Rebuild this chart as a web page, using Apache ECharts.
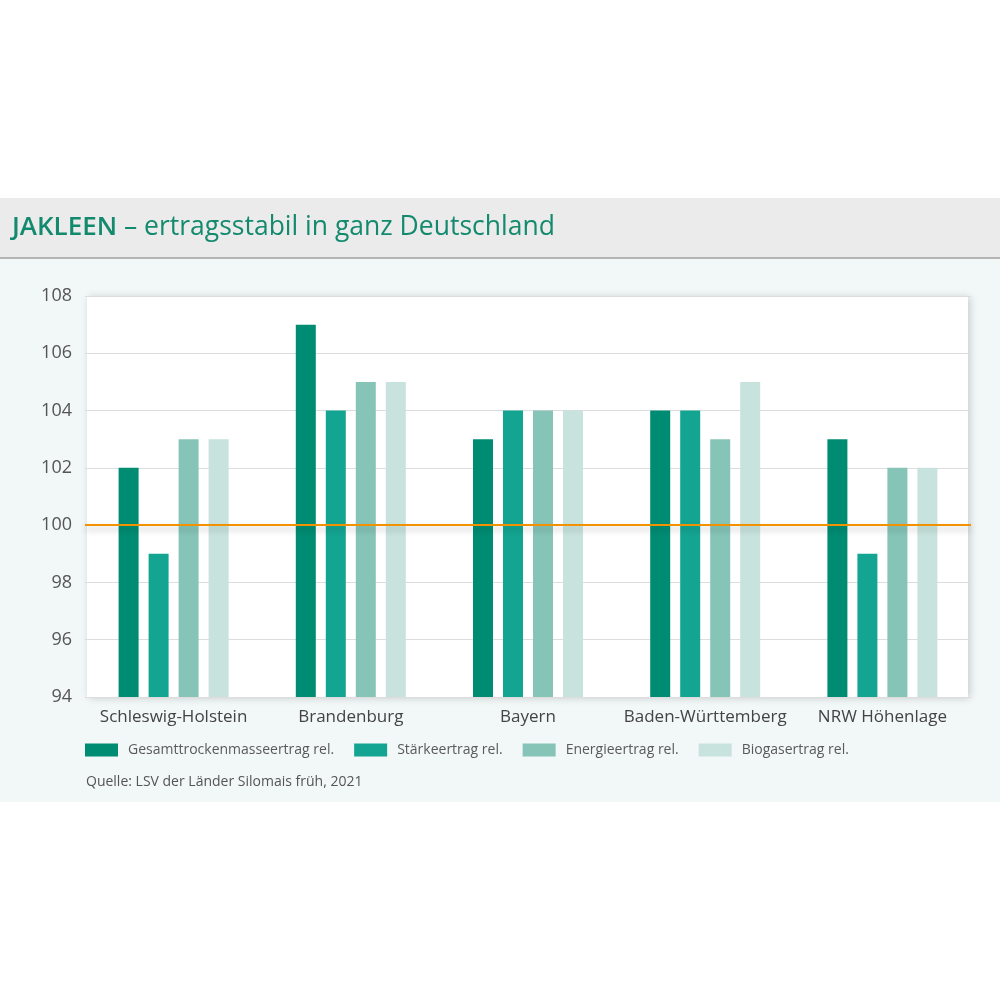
<!DOCTYPE html>
<html><head><meta charset="utf-8">
<script src="https://cdn.jsdelivr.net/npm/echarts@6/dist/echarts.min.js"></script>
<style>html,body{margin:0;padding:0;background:#fff}#c{width:1000px;height:1000px}</style>
</head><body><div id="c"></div>
<script>
const categories = ['Schleswig-Holstein','Brandenburg','Bayern','Baden-Württemberg','NRW Höhenlage'];
const seriesNames = ['Gesamttrockenmasseertrag rel.','Stärkeertrag rel.','Energieertrag rel.','Biogasertrag rel.'];
const gesamt = [102, 107, 103, 104, 103];
const staerke = [99, 104, 104, 104, 99];
const energie = [103, 105, 104, 103, 102];
const biogas = [103, 105, 104, 105, 102];
const colors = ['#008c73','#14a592','#86c4b8','#c8e3dd'];
const yTicks = [94, 96, 98, 100, 102, 104, 106, 108];
const refValue = 100;

const chart = echarts.init(document.getElementById('c'));
const data = [gesamt, staerke, energie, biogas];
const series = data.map((d, i) => ({
  name: seriesNames[i], type: 'bar', data: d, barWidth: 20, barGap: '50%',
  itemStyle: { color: colors[i] }, z: 2,
  markLine: i === 0 ? {
    silent: true, symbol: 'none', label: { show: false },
    lineStyle: { color: '#f39200', width: 2, type: 'solid', shadowColor: 'rgba(0,0,0,0.25)', shadowBlur: 6, shadowOffsetY: 4 },
    data: [{ yAxis: refValue }]
  } : undefined
}));

chart.setOption({
  animation: false,
  backgroundColor: '#ffffff',
  graphic: [
    { type: 'rect', shape: { x: 0, y: 198, width: 1000, height: 60 }, style: { fill: '#ebebeb' }, z: -10 },
    { type: 'rect', shape: { x: 0, y: 257, width: 1000, height: 2 }, style: { fill: '#b4b4b4' }, z: -9 },
    { type: 'rect', shape: { x: 0, y: 259, width: 1000, height: 543 }, style: { fill: '#f2f7f7' }, z: -10 },
    { type: 'rect', shape: { x: 87, y: 296, width: 881, height: 401 }, style: { fill: '#ffffff', shadowColor: 'rgba(0,0,0,0.18)', shadowBlur: 8, shadowOffsetX: 2, shadowOffsetY: 1 }, z: -8 },
    { type: 'text', left: 12, top: 214, style: { rich: { b: { fontWeight: 600, fontSize: 26, fill: '#138a6e', fontFamily: 'Open Sans' }, n: { fontSize: 26.5, fill: '#138a6e', fontFamily: 'Open Sans' } }, text: '{b|JAKLEEN}{n| – ertragsstabil in ganz Deutschland}' }, z: 5 },
    { type: 'text', left: 86, top: 775, style: { text: 'Quelle: LSV der Länder Silomais früh, 2021', fontSize: 14, fill: '#555', fontFamily: 'Open Sans' }, z: 5 }
  ],
  grid: { left: 85, right: 29, top: 296, bottom: 303 },
  legend: {
    left: 85, top: 743, padding: 0, itemWidth: 33, itemHeight: 13, itemGap: 20, icon: 'rect',
    textStyle: { color: '#5a5a5a', fontSize: 14, fontFamily: 'Open Sans', padding: [0, 0, 0, 5] },
    data: seriesNames
  },
  xAxis: {
    type: 'category', data: categories,
    axisLine: { show: false }, axisTick: { show: false },
    axisLabel: { color: '#444', fontSize: 17, margin: 12, interval: 0, fontFamily: 'Open Sans' }
  },
  yAxis: {
    type: 'value', min: 94, max: 108, interval: 2,
    axisLine: { show: false }, axisTick: { show: false },
    axisLabel: { color: '#555', fontSize: 18, margin: 13, fontFamily: 'Open Sans',
      formatter: v => yTicks.includes(v) ? String(v) : '' },
    splitLine: { lineStyle: { color: '#dddddd', width: 1 } }
  },
  series: series
});
</script></body></html>
